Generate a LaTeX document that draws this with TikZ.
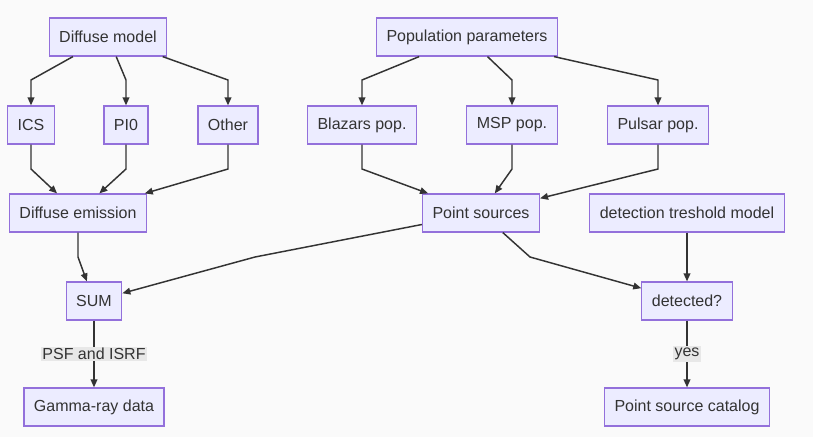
\documentclass[tikz,border=0pt]{standalone}
\usepackage{xcolor}
\usepackage{fontspec}
\setmainfont{Liberation Sans}
\usepackage{tikz}
\usetikzlibrary{arrows.meta,positioning}
\definecolor{boxfill}{HTML}{ECECFF}
\definecolor{boxline}{HTML}{9370DB}
\definecolor{edgeline}{HTML}{333333}
\definecolor{lblfill}{HTML}{E8E8E8}
\definecolor{bgfill}{HTML}{FAFAFA}

\begin{document}
\begin{tikzpicture}[x=0.75pt, y=-0.75pt,
    block/.style={rectangle, draw=boxline, fill=boxfill, line width=0.9pt, minimum height=28.5pt, inner xsep=7.5pt, font=\fontsize{12}{14}\selectfont, text=edgeline},
    edge/.style={-{Triangle[length=6pt,width=5pt]}, draw=edgeline, line width=1.1pt},
    elabel/.style={rectangle, fill=lblfill, inner sep=1.2pt, font=\fontsize{12}{14}\selectfont, text=edgeline}
]

% Background and page size
\fill[bgfill] (0,0) rectangle (813,437);
\useasboundingbox (0,0) rectangle (813,437);

% Models
\node[block] (diffmod) at (108,37) {Diffuse model};
\node[block] (poppar) at (467,37) {Population parameters};

% Components
\node[block] (ics) at (31,125) {ICS};
\node[block] (pizero) at (126,125) {PI0};
\node[block] (other) at (228,125) {Other};
\node[block] (blazars) at (362,125) {Blazars pop.};
\node[block] (msp) at (512,125) {MSP pop.};
\node[block] (pulsar) at (658,125) {Pulsar pop.};

% Emission
\node[block] (diffem) at (78,213) {Diffuse emission};
\node[block] (pointsrc) at (481,213) {Point sources};
\node[block] (threshold) at (687,213) {detection treshold model};

% Outputs
\node[block] (sum) at (94,301) {SUM};
\node[block] (detected) at (687,301) {detected?};
\node[block] (gamma) at (94,407) {Gamma-ray data};
\node[block] (catalog) at (687,407) {Point source catalog};

% Model to components
\draw[edge] (diffmod) -- (ics |- 0,80) -- (ics);
\draw[edge] (diffmod) -- (pizero |- 0,80) -- (pizero);
\draw[edge] (diffmod) -- (other |- 0,80) -- (other);
\draw[edge] (poppar) -- (blazars |- 0,80) -- (blazars);
\draw[edge] (poppar) -- (msp |- 0,80) -- (msp);
\draw[edge] (poppar) -- (pulsar |- 0,80) -- (pulsar);

% Components to emission
\draw[edge] (ics) -- (ics |- 0,169) -- (diffem);
\draw[edge] (pizero) -- (pizero |- 0,169) -- (diffem);
\draw[edge] (other) -- (other |- 0,169) -- (diffem);
\draw[edge] (blazars) -- (blazars |- 0,169) -- (pointsrc);
\draw[edge] (msp) -- (msp |- 0,169) -- (pointsrc);
\draw[edge] (pulsar) -- (pulsar |- 0,169) -- (pointsrc);

% Emission to outputs
\draw[edge] (diffem) -- (diffem |- 0,257) -- (sum);
\draw[edge] (pointsrc) -- (255,257) -- (sum);
\draw[edge] (pointsrc) -- (530,257) -- (detected);
\draw[edge] (threshold) -- (detected);

% Final products
\draw[edge] (sum) -- node[elabel] {PSF and ISRF} (gamma);
\draw[edge] (detected) -- node[elabel] {yes} (catalog);

\end{tikzpicture}
\end{document}
